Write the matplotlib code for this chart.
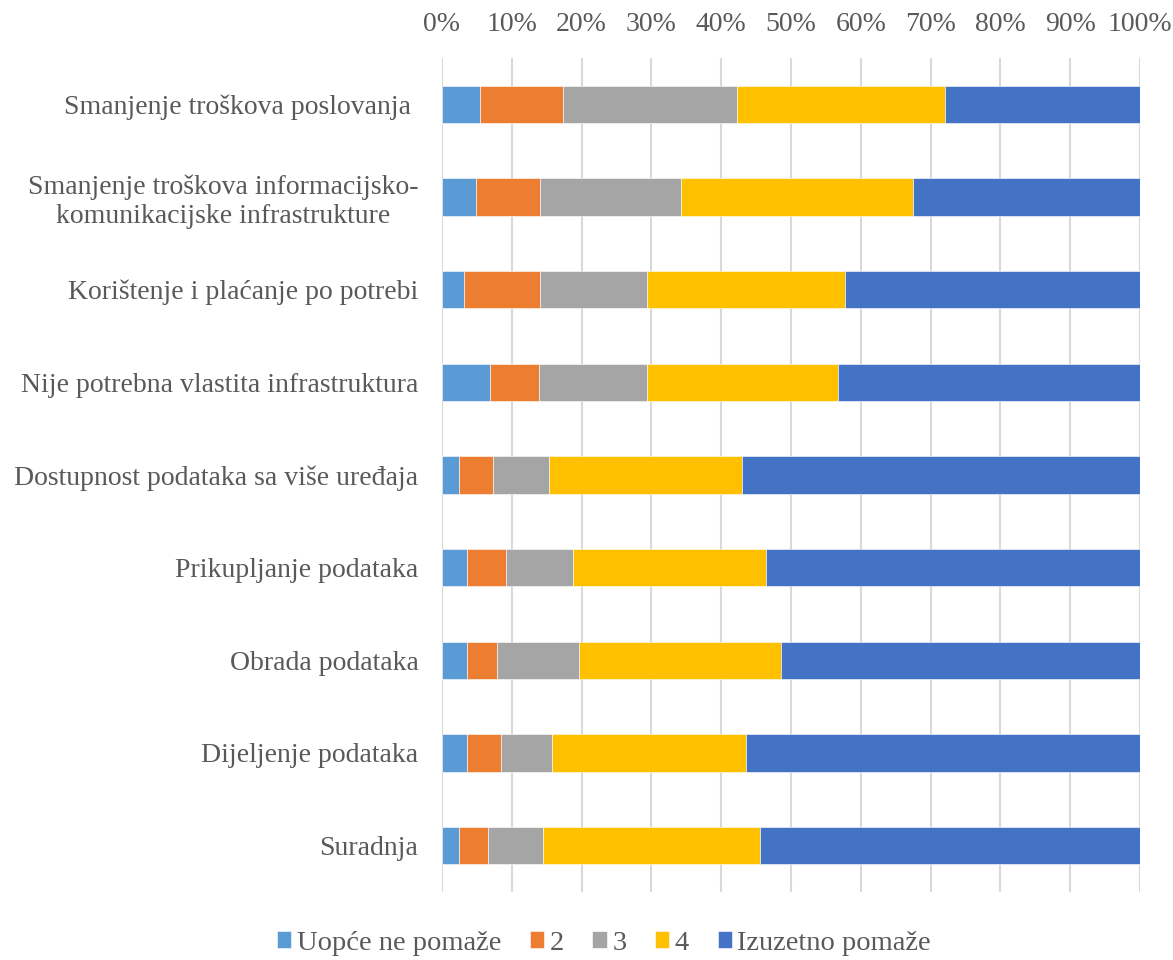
import matplotlib
matplotlib.use("Agg")
import matplotlib.pyplot as plt
import numpy as np

categories = [
    "Smanjenje troškova poslovanja ",
    "Smanjenje troškova informacijsko-\nkomunikacijske infrastrukture",
    "Korištenje i plaćanje po potrebi",
    "Nije potrebna vlastita infrastruktura",
    "Dostupnost podataka sa više uređaja",
    "Prikupljanje podataka",
    "Obrada podataka",
    "Dijeljenje podataka",
    "Suradnja",
]
series_names = ["Uopće ne pomaže", "2", "3", "4", "Izuzetno pomaže"]
s1 = [5.5, 4.8, 3.2, 6.9, 2.4, 3.6, 3.6, 3.6, 2.4]
s2 = [11.9, 9.3, 10.9, 7.0, 4.95, 5.5, 4.3, 4.85, 4.2]
s3 = [24.8, 20.2, 15.3, 15.4, 8.0, 9.7, 11.7, 7.25, 7.9]
s4 = [29.9, 33.2, 28.3, 27.4, 27.7, 27.6, 28.9, 27.9, 31.0]
s5 = [27.9, 32.5, 42.3, 43.3, 57.0, 53.6, 51.5, 56.4, 54.5]
colors = ["#5B9BD5", "#ED7D31", "#A5A5A5", "#FFC000", "#4472C4"]
xticks = [0, 10, 20, 30, 40, 50, 60, 70, 80, 90, 100]

plt.rcParams['font.family'] = ['Liberation Serif', 'DejaVu Serif']
FS = 20
TXT = '#595959'
fig = plt.figure(figsize=(11.73, 9.60), dpi=100)
ax = fig.add_axes([442/1173, 1 - 892/960, (1140-442)/1173, (892-58)/960])

data = np.array([s1, s2, s3, s4, s5])
totals = data.sum(axis=0)
pct = data / totals * 100
y = np.arange(len(categories))
left = np.zeros(len(categories))
for i, name in enumerate(series_names):
    ax.barh(y, pct[i], left=left, height=0.4, color=colors[i], label=name,
            edgecolor='white', linewidth=0.4, zorder=3)
    left += pct[i]

ax.set_xlim(0, 100)
ax.set_ylim(len(categories) - 0.5, -0.5)
ax.set_yticks(y)
ax.set_yticklabels(categories, fontsize=FS, color=TXT)
for lbl in ax.get_yticklabels():
    lbl.set_multialignment('center')
ax.set_xticks(xticks)
ax.set_xticklabels([f"{v}%" for v in xticks], fontsize=FS, color=TXT)
ax.xaxis.tick_top()
ax.tick_params(axis='both', length=0)
ax.tick_params(axis='y', pad=17)
ax.tick_params(axis='x', pad=15)
ax.grid(axis='x', color='#D9D9D9', linewidth=1.5, zorder=0)
for sp in ax.spines.values():
    sp.set_visible(False)

handles, labels = ax.get_legend_handles_labels()
fig.legend(handles, labels, loc='center', bbox_to_anchor=(604/1173, 1 - 943/960),
           ncol=5, frameon=False, fontsize=20.5, handlelength=0.5, handleheight=0.5,
           handletextpad=0.2, columnspacing=1.0, labelcolor=TXT)

fig.savefig("out.png", dpi=100)
